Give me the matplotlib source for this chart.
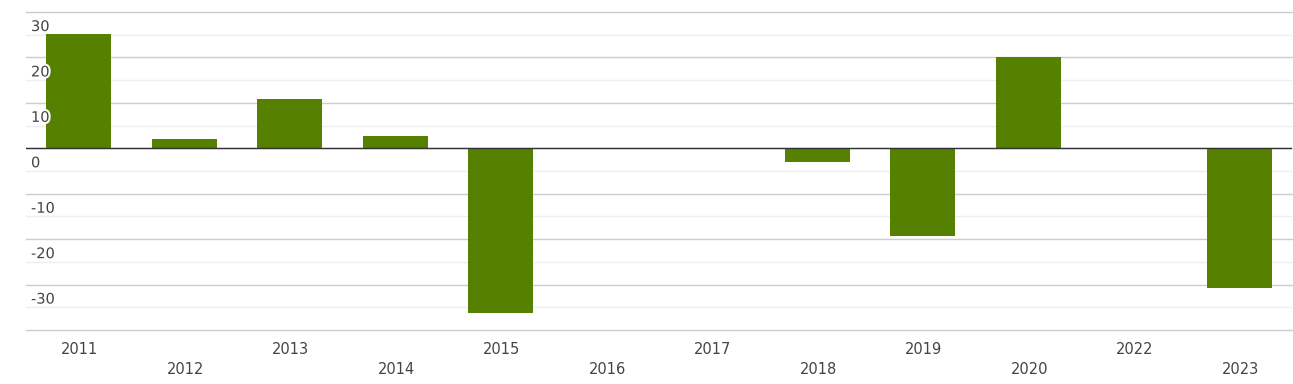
import matplotlib
matplotlib.use("Agg")
import matplotlib.pyplot as plt
import matplotlib.transforms as mtransforms
import matplotlib.patheffects as pe

years = ["2011", "2012", "2013", "2014", "2015", "2016", "2017", "2018", "2019", "2020", "2022", "2023"]
values = [25.2, 2.1, 10.85, 2.7, -36.2, 0, 0, -3.0, -19.3, 20.1, 0, -30.7]
yticks = [30, 20, 10, 0, -10, -20, -30]

fig = plt.figure(figsize=(12.93, 3.84), dpi=100)
ax = fig.add_axes([26/1293, 54/384, 1266/1293, 318/384])

x = list(range(len(years)))
ax.bar(x, values, width=0.62, color="#558000", zorder=2)

ax.set_xlim(-0.5, len(years) - 0.5)
ax.set_ylim(-40, 30)

for v in range(-40, 31, 10):
    ax.axhline(v, color="#cccccc", lw=1, zorder=0, clip_on=False)
for v in range(-35, 30, 10):
    ax.axhline(v, color="#eeeeee", lw=1, zorder=0)
ax.axhline(0, color="#333333", lw=1, zorder=3)

for s in ax.spines.values():
    s.set_visible(False)
ax.set_xticks([])
ax.set_yticks([])

trans_y = mtransforms.blended_transform_factory(ax.transAxes, ax.transData)
for v in yticks:
    t = mtransforms.offset_copy(trans_y, fig=fig, x=5, y=-7, units="dots")
    ax.text(0, v, str(v), transform=t, ha="left", va="top", fontsize=10.5,
            color="#444444", zorder=4,
            path_effects=[pe.withStroke(linewidth=3, foreground="white")])

trans_x = mtransforms.blended_transform_factory(ax.transData, fig.transFigure)
for i, lab in enumerate(years):
    yy = (384 - 349) / 384 if i % 2 == 0 else (384 - 369) / 384
    ax.text(i + 0.01, yy, lab, transform=trans_x, ha="center", va="center",
            fontsize=10.5, color="#444444")

fig.savefig("out.png", dpi=100)
